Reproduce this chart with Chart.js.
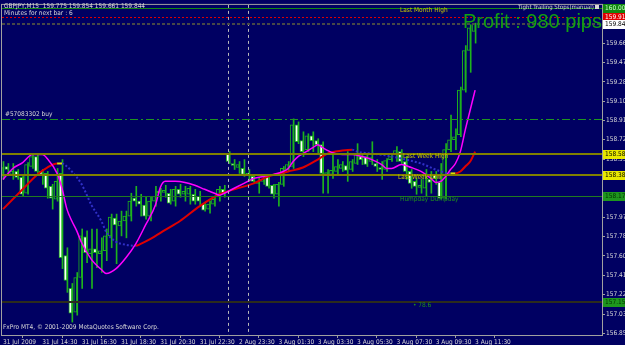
<!DOCTYPE html>
<html>
<head>
<meta charset="utf-8">
<script src="https://cdn.jsdelivr.net/npm/chart.js@4.4.0/dist/chart.umd.min.js"></script>
<style>
  html, body { margin: 0; padding: 0; background: #000062; }
  #wrap { width: 625px; height: 345px; }
</style>
</head>
<body>
<div id="wrap"><canvas id="chart" width="625" height="345"></canvas></div>
<script>
// GBPJPY M15 candles, 31 Jul 12:30 .. 3 Aug 11:30 (weekend gap after index 45)
const opens = [158.399,158.466,158.389,158.418,158.360,158.207,158.466,158.562,158.418,158.399,158.274,158.149,158.399,157.602,157.285,157.055,157.391,157.784,157.621,157.669,157.621,157.650,157.794,157.967,157.890,157.938,157.986,158.159,158.130,158.092,157.986,158.130,158.207,158.216,158.207,158.130,158.245,158.197,158.197,158.197,158.178,158.101,158.053,158.101,158.178,158.245,158.591,158.495,158.456,158.447,158.399,158.370,158.303,158.322,158.370,158.284,158.197,158.293,158.437,158.466,158.869,158.716,158.629,158.764,158.716,158.677,158.389,158.389,158.418,158.447,158.476,158.437,158.495,158.562,158.562,158.514,158.495,158.456,158.437,158.533,158.581,158.610,158.514,158.418,158.322,158.264,158.255,158.341,158.389,158.312,158.159,158.629,158.725,158.773,159.205,159.589,159.775]
const highs = [158.514,158.495,158.495,158.437,158.370,158.504,158.591,158.591,158.437,158.418,158.293,158.447,158.533,157.679,157.333,157.439,157.861,157.842,157.861,157.861,157.775,157.861,158.005,158.005,158.034,158.034,158.207,158.274,158.197,158.178,158.178,158.274,158.255,158.284,158.245,158.274,158.293,158.274,158.274,158.245,158.226,158.120,158.130,158.178,158.274,158.284,158.610,158.533,158.514,158.533,158.437,158.389,158.351,158.370,158.389,158.293,158.312,158.466,158.514,158.927,158.898,158.802,158.783,158.802,158.735,158.706,158.437,158.591,158.533,158.514,158.610,158.533,158.687,158.581,158.591,158.706,158.533,158.514,158.543,158.581,158.658,158.629,158.562,158.437,158.351,158.341,158.437,158.418,158.418,158.495,158.687,158.965,158.831,159.234,159.637,159.839,159.854]
const lows = [158.341,158.399,158.341,158.341,158.178,158.197,158.447,158.399,158.293,158.159,158.053,158.130,157.477,157.247,156.959,157.026,157.285,157.535,157.285,157.487,157.439,157.554,157.679,157.525,157.794,157.775,157.938,158.082,157.986,157.957,157.938,158.082,158.130,158.168,158.101,158.082,158.168,158.130,158.101,158.101,158.082,158.034,158.015,158.082,158.130,158.168,158.495,158.437,158.399,158.370,158.322,158.303,158.207,158.293,158.255,158.159,158.082,158.274,158.418,158.447,158.687,158.562,158.610,158.610,158.581,158.207,158.207,158.351,158.389,158.418,158.322,158.418,158.485,158.485,158.466,158.485,158.418,158.341,158.418,158.514,158.514,158.495,158.341,158.255,158.197,158.207,158.178,158.207,158.293,158.149,158.149,158.610,158.629,158.754,159.186,159.378,159.661]
const closes = [158.456,158.437,158.418,158.360,158.197,158.485,158.562,158.418,158.389,158.255,158.159,158.322,157.583,157.362,157.045,157.391,157.794,157.631,157.669,157.631,157.650,157.794,157.976,157.900,157.938,157.986,158.130,158.130,158.101,157.986,158.130,158.178,158.226,158.236,158.111,158.245,158.197,158.226,158.255,158.130,158.130,158.044,158.101,158.149,158.245,158.197,158.514,158.476,158.485,158.389,158.380,158.322,158.322,158.341,158.274,158.197,158.293,158.447,158.485,158.869,158.706,158.610,158.764,158.716,158.677,158.399,158.408,158.428,158.466,158.485,158.428,158.514,158.581,158.533,158.485,158.552,158.466,158.437,158.524,158.562,158.620,158.514,158.418,158.303,158.274,158.284,158.389,158.312,158.351,158.159,158.629,158.725,158.754,159.205,159.589,159.810,159.844]

// fast MA (magenta) read at these bars
const fastIdx = [0,2,4,6,8,9,11,12,13,14,15,16,18,20,21,23,25,27,29,31,32,33,35,37,39,41,43,44,45,47,49,51,53,55,57,58,59,60,61,63,64,65,67,69,71,73,75,77,78,79,81,83,85,87,88,89,90,91,92,93,94,95,96]
const fastVal = [158.341,158.447,158.504,158.581,158.581,158.543,158.399,158.255,158.053,157.938,157.842,157.727,157.564,157.468,157.429,157.477,157.583,157.717,157.900,158.092,158.264,158.322,158.322,158.312,158.284,158.245,158.207,158.188,158.207,158.255,158.303,158.351,158.370,158.389,158.418,158.447,158.514,158.562,158.591,158.648,158.677,158.648,158.600,158.581,158.581,158.562,158.533,158.485,158.447,158.447,158.485,158.456,158.418,158.351,158.312,158.322,158.370,158.437,158.495,158.610,158.820,159.013,159.205]

// slow MA (red up / blue down)
const slowIdx = [0,4,7,9,11,12,13,14,16,18,20,21,23,25,27,28,30,33,36,40,44,47,51,54,58,61,64,66,69,71,72,75,78,81,85,89,91,92,93,94,95,96]
const slowVal = [158.053,158.245,158.389,158.456,158.495,158.495,158.466,158.418,158.293,158.092,157.938,157.832,157.736,157.708,157.698,157.717,157.765,157.852,157.938,158.082,158.197,158.245,158.303,158.370,158.418,158.456,158.533,158.591,158.620,158.629,158.610,158.591,158.572,158.543,158.495,158.418,158.399,158.399,158.418,158.466,158.514,158.610]

const xTickIdx = [0, 8, 16, 24, 32, 40, 48, 56, 64, 72, 80, 88, 96]
const xTickLabels = ['31 Jul 2009', '31 Jul 14:30', '31 Jul 16:30', '31 Jul 18:30', '31 Jul 20:30', '31 Jul 22:30', '2 Aug 23:30', '3 Aug 01:30', '3 Aug 03:30', '3 Aug 05:30', '3 Aug 07:30', '3 Aug 09:30', '3 Aug 11:30']
const yTickVals = [159.660, 159.475, 159.285, 159.100, 158.910, 158.725, 158.535, 158.350, 158.160, 157.975, 157.785, 157.600, 157.410, 157.225, 157.035, 156.850]
const yTickLabels = ['159.660', '159.475', '159.285', '159.100', '158.910', '158.725', '158.535', '158.350', '158.160', '157.975', '157.785', '157.600', '157.410', '157.225', '157.035', '156.850']

// horizontal objects
const monthHigh = 160.000
const stopPrice = 159.915
const bidPrice = 159.844
const buyPrice = 158.925
const weekHigh = 158.588
const weekLow = 158.384
const humpPrice = 158.178
const fibPrice = 157.150
const separators = [46, 50]

const NAVY = '#000062'
const GREEN = '#1db31d'
const FAMILY = "'DejaVu Sans Condensed', 'DejaVu Sans', sans-serif"
const SMALL = '6.5px ' + FAMILY

let idx = opens.map((v, i) => i)

const overlay = {
  id: 'overlay',
  beforeDraw(chart) {
    let c = chart.ctx
    c.save()
    c.fillStyle = NAVY
    c.fillRect(0, 0, chart.width, chart.height)
    c.restore()
  },
  afterDatasetsDraw(chart) {
    let c = chart.ctx
    let a = chart.chartArea
    let ys = chart.scales.y
    let xs = chart.scales.x
    const hline = (p, color, w, dash) => {
      let y = Math.round(ys.getPixelForValue(p)) + (w % 2 ? 0.5 : 0)
      c.save()
      c.strokeStyle = color
      c.lineWidth = w
      c.setLineDash(dash || [])
      c.beginPath()
      c.moveTo(a.left, y)
      c.lineTo(a.right, y)
      c.stroke()
      c.restore()
    }
    c.save()
    c.beginPath()
    c.rect(a.left, a.top, a.right - a.left, a.bottom - a.top)
    c.clip()
    separators.forEach((i) => {
      let x = Math.round(xs.getPixelForValue(i)) - 0.5
      c.strokeStyle = '#b8b8b8'
      c.lineWidth = 1
      c.setLineDash([3, 3])
      c.beginPath()
      c.moveTo(x, a.top)
      c.lineTo(x, a.bottom)
      c.stroke()
    })
    c.setLineDash([])
    hline(monthHigh, '#118811', 1)
    hline(stopPrice, '#e00000', 1, [2, 2])
    hline(bidPrice, '#484848', 2, [3, 2])
    hline(buyPrice, '#1e961e', 1, [8, 3, 2, 3])
    hline(weekHigh, '#808000', 2)
    hline(weekLow, '#808000', 2)
    hline(humpPrice, '#207a20', 1)
    hline(fibPrice, '#2c2c1c', 2)
    c.restore()
  },
  afterDraw(chart) {
    let c = chart.ctx
    let a = chart.chartArea
    let ys = chart.scales.y
    c.save()
    // frame
    c.strokeStyle = '#a0a0a0'
    c.lineWidth = 1
    c.strokeRect(a.left - 0.5, a.top - 0.5, a.right - a.left + 1, a.bottom - a.top + 1)

    c.font = SMALL
    c.textBaseline = 'middle'
    c.fillStyle = '#d8d8d8'
    c.fillText('GBPJPY,M15  159.775 159.854 159.661 159.844', 4, 6)
    c.fillText('Minutes for next bar : 6', 4, 13)
    c.fillText('FxPro MT4, \u00a9 2001-2009 MetaQuotes Software Corp.', 3, 327)
    c.fillText('#57083302 buy', 5, 114)
    c.font = '6px ' + FAMILY
    c.fillText('Tight Trailing Stops(manual)', 518, 7)
    c.fillRect(595, 5, 4, 4)
    c.font = SMALL

    c.fillStyle = '#c8c800'
    c.fillText('Last Month High', 400, 10)
    c.fillText('Last Week High', 403, 156)
    c.fillText('Last Week Low', 398, 177)
    c.fillStyle = '#1e8c1e'
    c.fillText('Humpday Dumpday', 400, 199)
    c.fillText('\u2022 78.6', 413, 305)

    c.font = "20px 'Liberation Sans', Arial, sans-serif"
    c.textBaseline = 'alphabetic'
    c.fillStyle = '#12a012'
    c.fillText('Profit : 980 pips', 463, 28)

    // price tags on the right scale
    const tag = (p, bg, fg, txt) => {
      let y = Math.round(ys.getPixelForValue(p))
      c.fillStyle = bg
      c.fillRect(a.right + 1, y - 4, chart.width - a.right - 1, 9)
      c.fillStyle = fg
      c.font = SMALL
      c.textBaseline = 'middle'
      c.fillText(txt, a.right + 3, y + 0.5)
    }
    tag(monthHigh, '#118811', '#c8ffc8', monthHigh.toFixed(3))
    tag(stopPrice, '#e00000', '#ffffff', stopPrice.toFixed(3))
    tag(bidPrice, '#ffffff', '#000000', bidPrice.toFixed(3))
    tag(weekHigh, '#e8e800', '#000000', weekHigh.toFixed(3))
    tag(weekLow, '#e8e800', '#000000', weekLow.toFixed(3))
    tag(humpPrice, '#1e961e', '#003300', humpPrice.toFixed(3))
    tag(fibPrice, '#1e961e', '#003300', fibPrice.toFixed(3))
    c.restore()
  },
}

const slopeColor = (ctx) => {
  let d = ctx.p1.parsed.y - ctx.p0.parsed.y
  if (d > 0.001) return '#e00000'
  if (d < -0.001) return '#3030c8'
  return '#e0e000'
}

const config = {
  type: 'bar',
  data: {
    datasets: [
      {
        label: 'wick',
        data: idx.map((i) => ({ x: i, y: [lows[i], highs[i]] })),
        backgroundColor: GREEN,
        borderWidth: 0,
        barThickness: 1,
        order: 4,
      },
      {
        label: 'body',
        data: idx.map((i) => ({ x: i, y: [opens[i], closes[i]] })),
        backgroundColor: idx.map((i) => (closes[i] < opens[i] ? '#ffffff' : NAVY)),
        borderColor: GREEN,
        borderWidth: 1,
        borderSkipped: false,
        barThickness: 3,
        order: 3,
      },
      {
        type: 'line',
        label: 'slow',
        data: slowIdx.map((i, k) => ({ x: i, y: slowVal[k] })),
        borderWidth: 2,
        borderColor: '#e00000',
        pointRadius: 0,
        cubicInterpolationMode: 'monotone',
        segment: {
          borderColor: slopeColor,
          borderDash: (ctx) => (ctx.p1.parsed.y - ctx.p0.parsed.y < -0.001 ? [2, 2] : undefined),
        },
        order: 2,
      },
      {
        type: 'line',
        label: 'fast',
        data: fastIdx.map((i, k) => ({ x: i, y: fastVal[k] })),
        borderWidth: 1.5,
        borderColor: '#ff00ff',
        pointRadius: 0,
        cubicInterpolationMode: 'monotone',
        order: 1,
      },
    ],
  },
  options: {
    responsive: false,
    animation: false,
    devicePixelRatio: 1,
    layout: { padding: { left: 2, top: 2, right: 0, bottom: 0 } },
    plugins: { legend: { display: false }, tooltip: { enabled: false } },
    scales: {
      x: {
        type: 'linear',
        min: -0.2,
        max: 121.8,
        offset: false,
        afterFit: (s) => { s.height = 10 },
        afterBuildTicks: (s) => { s.ticks = xTickIdx.map((v) => ({ value: v })) },
        grid: { drawOnChartArea: false, tickLength: 3, color: '#a0a0a0' },
        border: { display: true, color: '#a0a0a0' },
        ticks: {
          autoSkip: false,
          maxRotation: 0,
          align: 'start',
          padding: 0,
          color: '#d8d8d8',
          font: { family: FAMILY, size: 6.5 },
          callback: (v, k) => xTickLabels[k],
        },
      },
      y: {
        type: 'linear',
        position: 'right',
        min: 156.834,
        max: 160.031,
        afterFit: (s) => { s.width = 23 },
        afterBuildTicks: (s) => { s.ticks = yTickVals.map((v) => ({ value: v })) },
        grid: { drawOnChartArea: false, tickLength: 3, color: '#a0a0a0' },
        border: { display: true, color: '#a0a0a0' },
        ticks: {
          padding: 1,
          color: '#d8d8d8',
          font: { family: FAMILY, size: 6.5 },
          callback: (v, k) => yTickLabels[k],
        },
      },
    },
  },
  plugins: [overlay],
}

var myChart = new Chart(document.getElementById('chart'), config)
</script>
</body>
</html>
